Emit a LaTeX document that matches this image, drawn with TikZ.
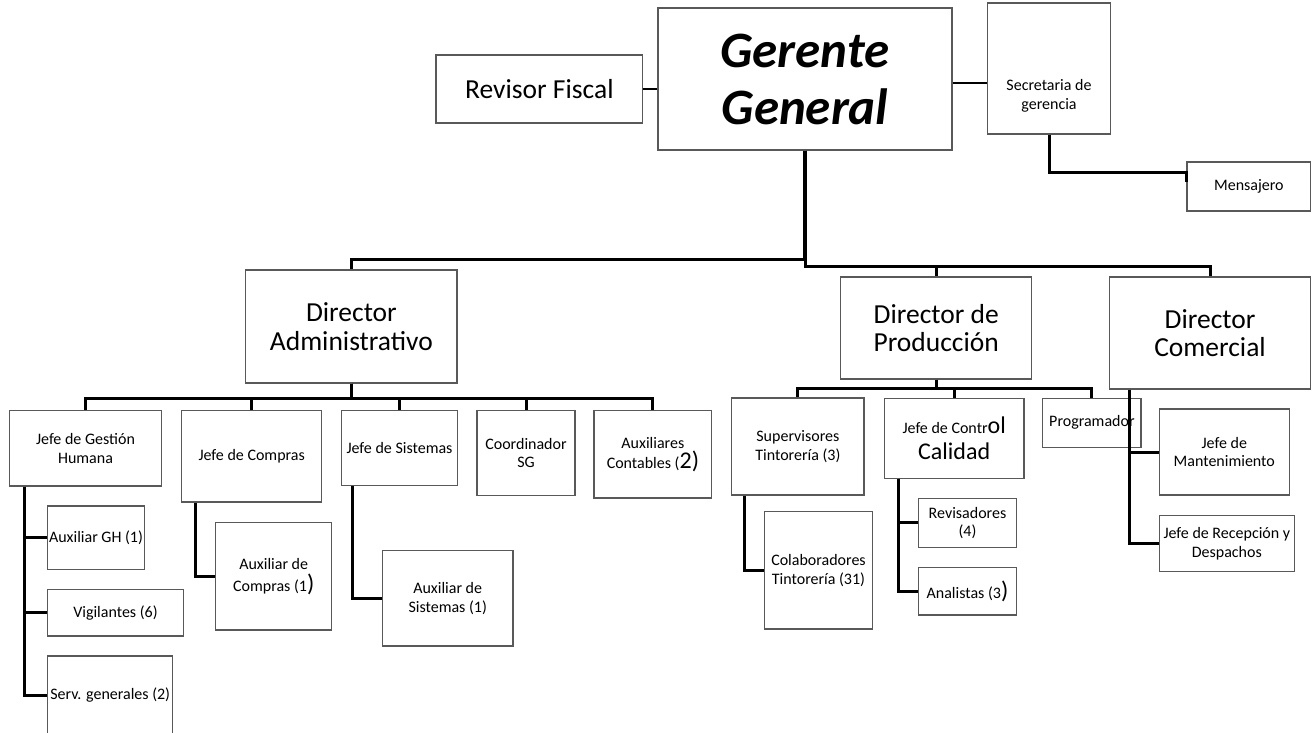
\documentclass[tikz,border=0pt]{standalone}
\usepackage{fontspec}
\setmainfont{Carlito}
\begin{document}
\begin{tikzpicture}[x=1pt, y=-1pt, box/.style = {draw=black!65, line width=1.2pt, fill=white, align=center, inner sep=0pt}, sm/.style = {font=\fontsize{16}{18.5}\selectfont}, big/.style = {font=\fontsize{27.5}{28.5}\selectfont}, conn/.style = {line width=3pt}, link/.style = {line width=1.3pt}]
\useasboundingbox (0,0) rectangle (1312,732);
\node[box] (1) [minimum width=294pt, minimum height=142pt, font=\fontsize{51}{57}\selectfont\bfseries\itshape] at (805,79) {Gerente\\General};
\node[box] (2) [big, minimum width=206.7pt, minimum height=68pt] at (539.4,89) {Revisor Fiscal};
\node[box] (3) [minimum width=123pt, minimum height=131pt, label={[sm, align=center, yshift=-27.5pt]center:Secretaria de\\gerencia}] at (1049,68.5) {};
\node[box] (4) [sm, minimum width=123.7pt, minimum height=49pt] at (1248.9,186.5) {Mensajero};
\node[box] (5) [big, minimum width=211.3pt, minimum height=113pt] at (351.4,326.5) {Director\\Administrativo};
\node[box] (6) [big, minimum width=191pt, minimum height=102pt] at (936.2,328) {Director de\\Producción};
\node[box] (7) [big, minimum width=201.4pt, minimum height=112pt] at (1210,333) {Director\\Comercial};
\node[box] (8) [sm, minimum width=152.4pt, minimum height=75.3pt] at (85.5,448.4) {Jefe de Gestión\\Humana};
\node[box] (9) [sm, minimum width=140pt, minimum height=91.3pt] at (251.7,456.4) {Jefe de Compras};
\node[box] (10) [sm, minimum width=115.6pt, minimum height=75pt] at (399.5,448.2) {Jefe de Sistemas};
\node[box] (11) [sm, minimum width=98pt, minimum height=84.8pt] at (526,453.1) {Coordinador\\SG};
\node[box] (12) [sm, minimum width=117.7pt, minimum height=87.3pt] at (652.9,454.4) {Auxiliares\\[2pt]Contables ({\fontsize{24}{24}\selectfont 2)}};
\node[box] (13) [sm, minimum width=132.3pt, minimum height=97pt] at (797.9,446.5) {Supervisores\\Tintorería (3)};
\node[box] (14) [sm, minimum width=139.7pt, minimum height=80pt] at (954.2,438.3) {Jefe de Contr{\fontsize{24}{24}\selectfont ol}\\[7pt]{\fontsize{24}{24}\selectfont Calidad}};
\node[box] (15) [sm, minimum width=98.3pt, minimum height=49pt] at (1091.9,422.8) {Programador};
\node[box] (16) [sm, minimum width=96.6pt, minimum height=63.3pt] at (96,537.7) {Auxiliar GH (1)};
\node[box] (17) [sm, minimum width=135.6pt, minimum height=46.7pt] at (115.5,612.7) {Vigilantes (6)};
\node[box] (18) [sm, minimum width=125pt, minimum height=78pt] at (110.2,695) {Serv. generales (2)};
\node[box] (19) [sm, minimum width=116pt, minimum height=107.3pt] at (273.7,576.4) {Auxiliar de\\[4pt]Compras (1{\fontsize{24}{24}\selectfont )}};
\node[box] (20) [sm, minimum width=130.7pt, minimum height=95.3pt] at (447.7,598.4) {Auxiliar de\\Sistemas (1)};
\node[box] (21) [sm, minimum width=108.4pt, minimum height=117.3pt] at (818.5,570.4) {Colaboradores\\Tintorería (31)};
\node[box] (22) [sm, minimum width=98.4pt, minimum height=49pt] at (967.5,522.8) {Revisadores\\(4)};
\node[box] (23) [sm, minimum width=98.4pt, minimum height=47.7pt] at (967.5,591.2) {Analistas (3{\fontsize{24}{24}\selectfont )}};
\node[box] (24) [sm, minimum width=130pt, minimum height=86pt] at (1224.3,452) {Jefe de\\Mantenimiento};
\node[box] (25) [sm, minimum width=135pt, minimum height=56pt] at (1226.8,543.7) {Jefe de Recepción y\\Despachos};
\draw[link] (2.east) -- (2.east -| 1.west);
\draw[link] ([yshift=-4pt]1.east) -- ([yshift=-4pt]1.east -| 3.west);
\draw[conn] (3.south) |- ([yshift=14.5pt]4.west) -- ([yshift=4.5pt]4.west);
\draw[conn] (1.south) |- ([yshift=10pt]5.north) -- (5.north);
\draw[conn] (1.south) |- ([yshift=10pt]7.north) -- (7.north);
\draw[conn] ([yshift=10pt]6.north) -- (6.north);
\draw[conn, line width=4.5pt] (1.south) -- ([yshift=10pt]5.north -| 1.south);
\foreach \c in {8,...,12} \draw[conn] (5.south) |- ([yshift=11.7pt]\c.north) -- (\c.north);
\foreach \c in {13,14,15} \draw[conn] (6.south) |- ([yshift=9.3pt]\c.north) -- (\c.north);
\foreach \c in {24,25} \draw[conn] ([xshift=-81pt]7.south) |- (\c.west);
\foreach \c in {16,17,18} \draw[conn] ([xshift=-61.2pt]8.south) |- (\c.west);
\draw[conn] ([xshift=-56.7pt]9.south) |- (19.west);
\draw[conn] ([xshift=-47.2pt]10.south) |- (20.west);
\draw[conn] ([xshift=-53.6pt]13.south) |- (21.west);
\foreach \c in {22,23} \draw[conn] ([xshift=-56.2pt]14.south) |- (\c.west);
\end{tikzpicture}
\end{document}
